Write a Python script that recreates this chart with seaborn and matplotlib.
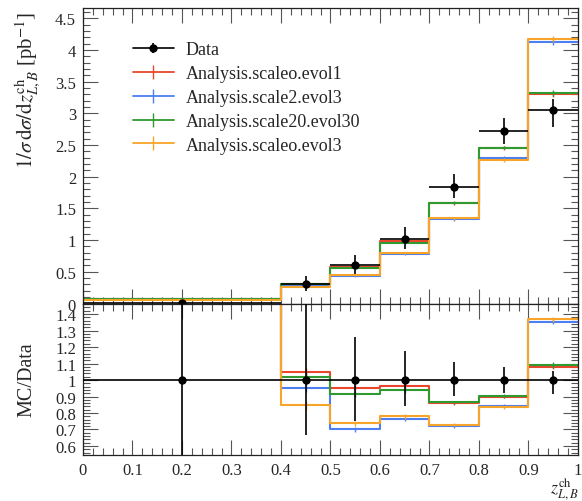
import numpy as np
import matplotlib
matplotlib.use("Agg")
import matplotlib.pyplot as plt
from matplotlib.lines import Line2D
from matplotlib.ticker import MultipleLocator, FuncFormatter
import seaborn as sns

# ---- binning and measured distribution -------------------------------------
edges = [0.0, 0.4, 0.5, 0.6, 0.7, 0.8, 0.9, 1.0]
data_vals = [0.013, 0.30, 0.61, 1.02, 1.84, 2.72, 3.05]
data_err_lo = [0.013, 0.10, 0.15, 0.16, 0.18, 0.21, 0.26]
data_err_hi = [0.030, 0.14, 0.16, 0.18, 0.20, 0.21, 0.17]

# ---- generator predictions -------------------------------------------------
mc_labels = [
    "Analysis.scaleo.evol1",
    "Analysis.scale2.evol3",
    "Analysis.scale20.evol30",
    "Analysis.scaleo.evol3",
]
scale0_evol1 = [0.072, 0.314, 0.582, 0.983, 1.580, 2.448, 3.30]
scale2_evol3 = [0.070, 0.286, 0.428, 0.779, 1.328, 2.298, 4.13]
scale20_evol30 = [0.076, 0.306, 0.559, 0.957, 1.590, 2.459, 3.325]
scale0_evol3 = [0.056, 0.254, 0.450, 0.796, 1.343, 2.268, 4.17]
mc_stat_err = [0.004, 0.008, 0.010, 0.015, 0.020, 0.030, 0.050]
mc_colors = ["#e8472e", "#4d7ff0", "#2f9a2f", "#f7a52a"]

# ---- style -----------------------------------------------------------------
sns.set_style("ticks")
plt.rcParams["font.family"] = ["Liberation Serif", "DejaVu Serif"]
plt.rcParams["mathtext.fontset"] = "stix"
plt.rcParams["axes.linewidth"] = 0.9
plt.rcParams["axes.edgecolor"] = "#222222"

edges_a = np.array(edges)
centers = 0.5 * (edges_a[:-1] + edges_a[1:])
half_w = 0.5 * np.diff(edges_a)
data_a = np.array(data_vals)
err_lo = np.array(data_err_lo)
err_hi = np.array(data_err_hi)
mc_sets = [scale0_evol1, scale2_evol3, scale20_evol30, scale0_evol3]

fig = plt.figure(figsize=(5.82, 5.02), dpi=100)
ax = fig.add_axes([0.1426, 0.3934, 0.8505, 0.5881])
axr = fig.add_axes([0.1426, 0.0922, 0.8505, 0.3012], sharex=ax)

lw_mc = 1.5
for vals, col in zip(mc_sets, mc_colors):
    vals = np.array(vals)
    sns.histplot(x=centers, weights=vals, bins=edges, element="step",
                 fill=False, color=col, linewidth=lw_mc, ax=ax)
    ax.errorbar(centers, vals, yerr=mc_stat_err, fmt="none", ecolor=col,
                elinewidth=1.0)
    sns.histplot(x=centers, weights=vals / data_a, bins=edges, element="step",
                 fill=False, color=col, linewidth=lw_mc, ax=axr)
    axr.errorbar(centers, vals / data_a, yerr=np.array(mc_stat_err) / data_a,
                 fmt="none", ecolor=col, elinewidth=1.0)

# measured points
ax.errorbar(centers, data_a, xerr=half_w, yerr=[err_lo, err_hi], fmt="o",
            color="black", ms=5, elinewidth=1.2, capsize=0, zorder=10)
axr.errorbar(centers, np.ones_like(data_a), xerr=half_w,
             yerr=[err_lo / data_a, err_hi / data_a], fmt="o", color="black",
             ms=5, elinewidth=1.2, capsize=0, zorder=10)

# ---- axes ------------------------------------------------------------------
fmt = FuncFormatter(lambda v, p: "%g" % round(v, 6))
for a in (ax, axr):
    a.set_xlim(0, 1)
    a.xaxis.set_major_locator(MultipleLocator(0.1))
    a.xaxis.set_minor_locator(MultipleLocator(0.02))
    a.tick_params(which="both", direction="in", top=True, right=True,
                  color="#555555", labelsize=12, width=0.8, pad=5)
    a.tick_params(which="major", length=10.5)
    a.tick_params(which="minor", length=5)
    a.yaxis.set_major_formatter(fmt)
    a.xaxis.set_major_formatter(fmt)

ax.set_ylim(0, 4.656)
ax.yaxis.set_major_locator(MultipleLocator(0.5))
ax.yaxis.set_minor_locator(MultipleLocator(0.1))
ax.tick_params(labelbottom=False)
ax.set_xlabel("")

axr.set_ylim(0.547, 1.464)
axr.yaxis.set_major_locator(MultipleLocator(0.1))
axr.yaxis.set_minor_locator(MultipleLocator(0.02))

ax.set_ylabel(r"$1/\sigma\,\mathrm{d}\sigma/\mathrm{d}z^{\mathrm{ch}}_{L,B}$ [pb$^{-1}$]",
              fontsize=15, loc="top")
ax.yaxis.set_label_coords(-0.082, 0.991)
axr.set_ylabel("MC/Data", fontsize=14.5)
axr.yaxis.set_label_coords(-0.094, 0.5)
axr.set_xlabel(r"$z^{\mathrm{ch}}_{L,B}$", fontsize=13, loc="right")
axr.xaxis.set_label_coords(1.0, -0.135)

# ---- legend ----------------------------------------------------------------
handles = [(Line2D([], [], color="black", lw=1.2, marker="o", ms=5),
            Line2D([], [], color="black", lw=0, marker="|", ms=7, mew=1.2))]
labels = ["Data"]
for col, lab in zip(mc_colors, mc_labels):
    handles.append(Line2D([], [], color=col, lw=1.3, marker="|", ms=10, mew=1.0))
    labels.append(lab)
ax.legend(handles, labels, loc="upper left", bbox_to_anchor=(0.101, 0.888),
          frameon=False, fontsize=13, borderpad=0, borderaxespad=0,
          handlelength=2.25, handletextpad=0.65, labelspacing=0.38)

fig.savefig("out.png", dpi=100)
